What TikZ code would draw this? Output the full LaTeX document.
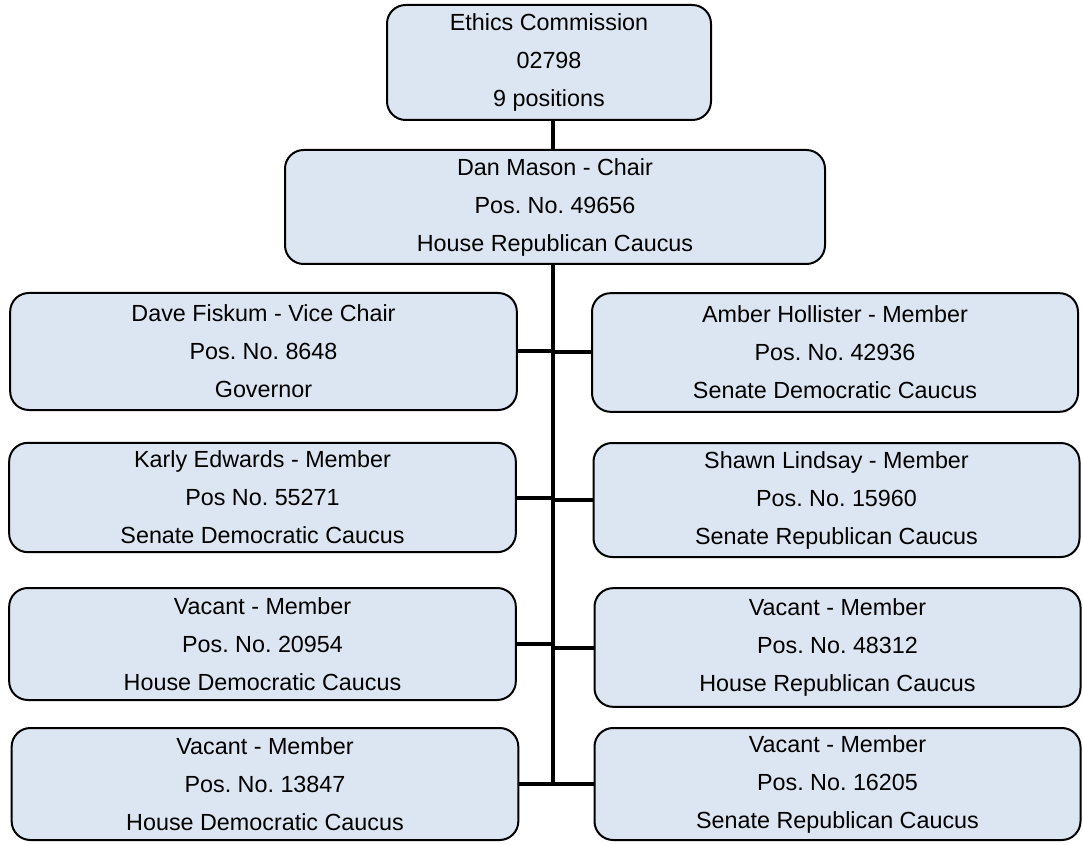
\documentclass[tikz,border=0pt]{standalone}
\usepackage{fontspec}
\setmainfont{Liberation Sans}
\frenchspacing
\definecolor{postblue}{RGB}{220,230,242}
\begin{document}
\begin{tikzpicture}[x=0.75pt, y=-0.75pt,
	post/.style={draw, line width=1.5pt, rounded corners=14pt, fill=postblue, align=center, inner sep=0pt, font={\fontsize{17.5}{28.5}\selectfont}},
	leftpost/.style={post, minimum width=380pt},
	rightpost/.style={post, minimum width=364.5pt},
	link/.style={line width=3pt}]
			 	%%%	Frame
			 	\useasboundingbox (0,0) rectangle (1083,845);
			 	%%%	Commission and chair
			 	\node[post, minimum width=243pt, minimum height=86.25pt] (commission) at (549,62.5) {Ethics Commission\\02798\\9 positions};
			 	\node[post, minimum width=405pt, minimum height=85.5pt] (chair) at (555,207) {Dan Mason - Chair\\Pos. No. 49656\\House Republican Caucus};
			 	
			 	%%%	Members, left column
			 	\node[leftpost, minimum height=87.75pt] (left1) at (263.5,351.5) {Dave Fiskum - Vice Chair\\Pos. No. 8648\\Governor};
			 	\node[leftpost, minimum height=82pt] (left2) at (262.5,497.5) {Karly Edwards - Member\\Pos No. 55271\\Senate Democratic Caucus};
			 	\node[leftpost, minimum height=84pt] (left3) at (262.5,644) {Vacant - Member\\Pos. No. 20954\\House Democratic Caucus};
			 	\node[leftpost, minimum height=84pt] (left4) at (265,784) {Vacant - Member\\Pos. No. 13847\\House Democratic Caucus};
			 	
			 	%%%	Members, right column
			 	\node[rightpost, minimum height=89pt] (right1) at (835,352.5) {Amber Hollister - Member\\Pos. No. 42936\\Senate Democratic Caucus};
			 	\node[rightpost, minimum height=85.5pt] (right2) at (836.5,500) {Shawn Lindsay - Member\\Pos. No. 15960\\Senate Republican Caucus};
			 	\node[rightpost, minimum height=89pt] (right3) at (837.5,647.5) {Vacant - Member\\Pos. No. 48312\\House Republican Caucus};
			 	\node[rightpost, minimum height=84pt] (right4) at (837.5,784) {Vacant - Member\\Pos. No. 16205\\Senate Republican Caucus};
			 	
			 	%%%	Lines
			 	\coordinate (trunk) at (553,784);
			 	\draw[link] (commission.south -| trunk) -- (chair.north -| trunk);
			 	\draw[link] (chair.south -| trunk) -- (trunk);
			 	\foreach \i in {1,...,4}{
			 	\draw[link] (left\i.east) -- (left\i.east -| trunk);
			 	\draw[link] (right\i.west) -- (right\i.west -| trunk);
			 	}
			 	
\end{tikzpicture}
\end{document}
